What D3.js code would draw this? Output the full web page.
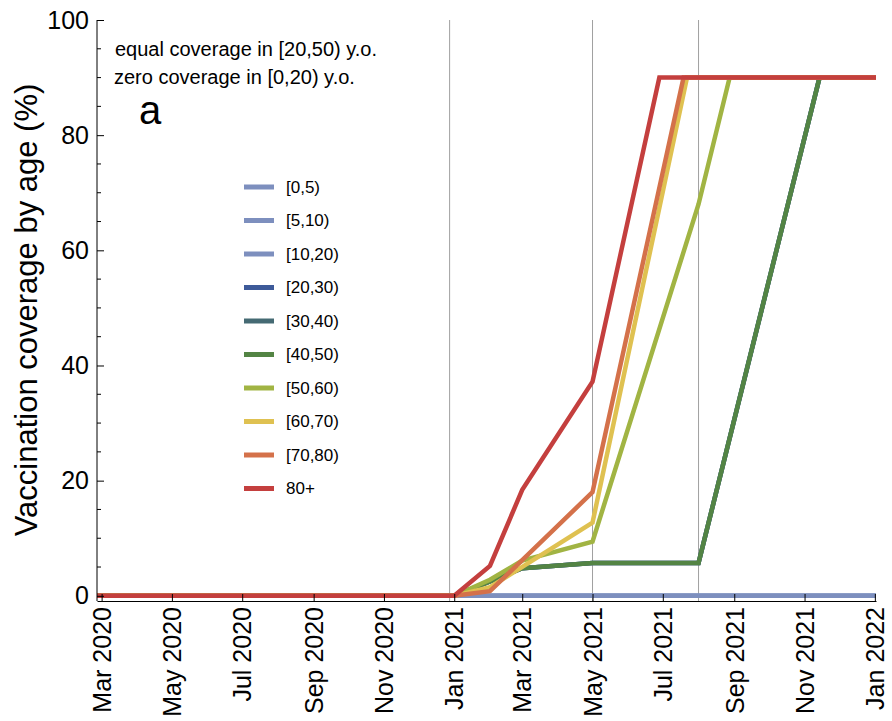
<!DOCTYPE html>
<meta charset="utf-8">
<head>
	<title>Vaccination coverage by age</title>
	<script type="text/javascript" src="https://d3js.org/d3.v7.min.js"></script>
	<style>
		body { margin: 0; background: #fff; }
		text { font-family: "Liberation Sans", Arial, sans-serif; fill: #000; }
	</style>
</head>
<body>
<div id="chart"></div>
<script>
	// data: [date, coverage %]
	var groups = ["[0,5)", "[5,10)", "[10,20)", "[20,30)", "[30,40)", "[40,50)", "[50,60)", "[60,70)", "[70,80)", "80+"];
	var colors = ["#7d8fbe", "#7d8fbe", "#7d8fbe", "#3d5a99", "#456a73", "#538444", "#a1b443", "#dfc151", "#d4714a", "#c43f3e"];

	var zeroSeries = [["2020-02-26", 0], ["2022-01-02", 0]];
	var equalSeries = [["2020-02-26", 0], ["2021-01-01", 0], ["2021-02-01", 2.5], ["2021-03-01", 4.8], ["2021-05-01", 5.7], ["2021-08-01", 5.7], ["2021-11-14", 90], ["2022-01-02", 90]];
	var series50 = [["2020-02-26", 0], ["2021-01-01", 0], ["2021-02-01", 2.8], ["2021-03-01", 6.1], ["2021-05-01", 9.4], ["2021-08-01", 68], ["2021-08-28", 90], ["2022-01-02", 90]];
	var series60 = [["2020-02-26", 0], ["2021-01-01", 0], ["2021-02-01", 1.5], ["2021-05-01", 12.7], ["2021-07-22", 90], ["2022-01-02", 90]];
	var series70 = [["2020-02-26", 0], ["2021-01-01", 0], ["2021-02-01", 0.8], ["2021-05-01", 18], ["2021-07-19", 90], ["2022-01-02", 90]];
	var series80 = [["2020-02-26", 0], ["2021-01-01", 0], ["2021-02-01", 5.2], ["2021-03-01", 18.4], ["2021-05-01", 37.2], ["2021-06-28", 90], ["2022-01-02", 90]];
	var allSeries = [zeroSeries, zeroSeries, zeroSeries, equalSeries, equalSeries, equalSeries, series50, series60, series70, series80];

	var phaseDates = ["2020-12-28", "2021-05-01", "2021-08-01"];
	var xTickDates = ["2020-03-01", "2020-05-01", "2020-07-01", "2020-09-01", "2020-11-01", "2021-01-01", "2021-03-01", "2021-05-01", "2021-07-01", "2021-09-01", "2021-11-01", "2022-01-01"];
	var yTicks = [0, 20, 40, 60, 80, 100];

	var w = 892, h = 721;
	var parse = d3.utcParse("%Y-%m-%d");
	var fmt = d3.utcFormat("%b %Y");

	var svg = d3.select("#chart").append("svg").attr("width", w).attr("height", h);

	var x = d3.scaleUtc().domain([parse("2020-02-26"), parse("2022-01-02")]).range([97, 876]);
	var y = d3.scaleLinear().domain([-0.9, 100]).range([601, 20]);

	// phase lines
	svg.selectAll(".phase")
		.data(phaseDates).enter()
		.append("line")
		.attr("x1", d => x(parse(d))).attr("x2", d => x(parse(d)))
		.attr("y1", y(100)).attr("y2", y(-0.9))
		.style("stroke", "#a0a0a0").style("stroke-width", 1);

	// curves
	var line = d3.line().x(d => x(parse(d[0]))).y(d => y(d[1]));
	svg.selectAll(".curve")
		.data(allSeries).enter()
		.append("path")
		.attr("d", line)
		.style("fill", "none")
		.style("stroke", (d, i) => colors[i])
		.style("stroke-width", 4.5)
		.style("stroke-linejoin", "miter");

	// x axis
	var xAxis = d3.axisBottom(x)
		.tickValues(xTickDates.map(parse))
		.tickFormat(fmt)
		.tickSizeInner(-7).tickSizeOuter(0).tickPadding(6);
	var gX = svg.append("g").attr("transform", "translate(0," + y(-0.9) + ")").call(xAxis);
	gX.select(".domain").style("stroke", "#000");
	gX.selectAll(".tick line").style("stroke", "#000");
	gX.selectAll(".tick text")
		.style("font-size", "25px")
		.attr("transform", "rotate(-90)")
		.attr("x", -6).attr("y", 0).attr("dy", "0.35em")
		.style("text-anchor", "end");

	// y axis
	var yAxis = d3.axisLeft(y).tickValues(yTicks).tickSizeInner(-7).tickSizeOuter(0).tickPadding(8);
	var gY = svg.append("g").attr("transform", "translate(" + x.range()[0] + ",0)").call(yAxis);
	gY.select(".domain").attr("d", "M0," + y(100) + "V" + y(-0.9)).style("stroke", "#000");
	gY.selectAll(".tick line").style("stroke", "#000");
	gY.selectAll(".tick text").style("font-size", "25px");
	gY.selectAll(".minor")
		.data(d3.range(5, 100, 5).filter(d => d % 20 != 0)).enter()
		.append("line")
		.attr("x1", 0).attr("x2", 4)
		.attr("y1", d => y(d)).attr("y2", d => y(d))
		.style("stroke", "#000");

	svg.append("text")
		.attr("transform", "translate(37,310) rotate(-90)")
		.style("text-anchor", "middle")
		.style("font-size", "31px")
		.text("Vaccination coverage by age (%)");

	// notes
	svg.append("text").attr("x", 115).attr("y", 56).style("font-size", "20px").text("equal coverage in [20,50) y.o.");
	svg.append("text").attr("x", 114).attr("y", 84).style("font-size", "20px").text("zero coverage in [0,20) y.o.");
	svg.append("text").attr("x", 139).attr("y", 124).style("font-size", "40px").text("a");

	// legend
	var legend = svg.append("g").attr("transform", "translate(244,187)");
	var item = legend.selectAll(".item")
		.data(groups).enter()
		.append("g")
		.attr("transform", (d, i) => "translate(0," + i * 33.5 + ")");
	item.append("line")
		.attr("x1", 0).attr("x2", 30).attr("y1", 0).attr("y2", 0)
		.style("stroke", (d, i) => colors[i]).style("stroke-width", 5);
	item.append("text")
		.attr("x", 42).attr("y", 0).attr("dy", "0.35em")
		.style("font-size", "17px")
		.text(d => d);
</script>
</body>
</html>
